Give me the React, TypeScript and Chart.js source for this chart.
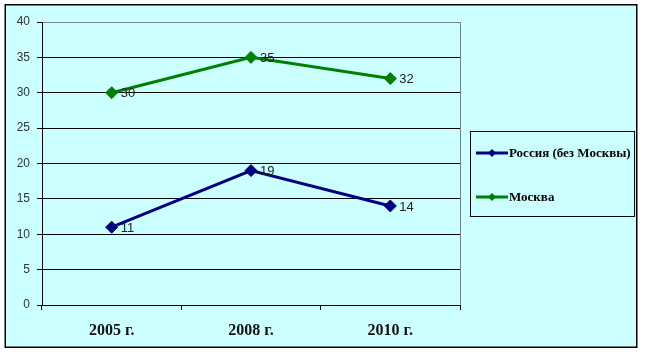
import React, { useEffect, useRef } from "react";
import { Chart, registerables } from "chart.js";

Chart.register(...registerables);

const categories = ["2005 г.", "2008 г.", "2010 г."];
const russiaValues = [11, 19, 14];
const moscowValues = [30, 35, 32];
const seriesNames = ["Россия (без Москвы)", "Москва"];
const seriesColors = ["#000080", "#008000"];
const yTicksMax = 40;
const yStep = 5;

const BG = "#CCFFFF";

const framePlugin = {
  id: "frame",
  beforeDraw(chart: any) {
    const { ctx, width, height } = chart;
    ctx.save();
    ctx.fillStyle = "#ffffff";
    ctx.fillRect(0, 0, width, height);
    ctx.fillStyle = BG;
    ctx.fillRect(5, 5, 632, 343);
    ctx.strokeStyle = "#000";
    ctx.lineWidth = 1.5;
    ctx.strokeRect(5.25, 4.75, 631.5, 342.5);
    ctx.restore();
  },
  afterDraw(chart: any) {
    const { ctx, chartArea } = chart;
    ctx.save();
    // right plot border
    ctx.strokeStyle = "#808080";
    ctx.lineWidth = 1;
    ctx.beginPath();
    ctx.moveTo(Math.round(chartArea.right) + 0.5, chartArea.top);
    ctx.lineTo(Math.round(chartArea.right) + 0.5, chartArea.bottom);
    ctx.stroke();

    // legend box
    const bx = 470, by = 131, bw = 164, bh = 85;
    ctx.fillStyle = BG;
    ctx.fillRect(bx, by, bw, bh);
    ctx.strokeStyle = "#000";
    ctx.strokeRect(bx + 0.5, by + 0.5, bw, bh);
    const ys = [153, 197];
    seriesNames.forEach((name, i) => {
      const y = ys[i];
      ctx.strokeStyle = seriesColors[i];
      ctx.lineWidth = 3;
      ctx.beginPath();
      ctx.moveTo(476, y);
      ctx.lineTo(508, y);
      ctx.stroke();
      ctx.fillStyle = seriesColors[i];
      ctx.beginPath();
      ctx.moveTo(492, y - 4);
      ctx.lineTo(496, y);
      ctx.lineTo(492, y + 4);
      ctx.lineTo(488, y);
      ctx.closePath();
      ctx.fill();
      ctx.fillStyle = "#000";
      ctx.font = "bold 13px 'Liberation Serif', 'Times New Roman', serif";
      ctx.textBaseline = "middle";
      ctx.textAlign = "left";
      ctx.fillText(name, 509, y + 1);
    });
    ctx.restore();
  },
  afterDatasetsDraw(chart: any) {
    const { ctx } = chart;
    ctx.save();
    ctx.font = "13px 'Liberation Sans', Arial, sans-serif";
    ctx.fillStyle = "#222";
    ctx.textBaseline = "middle";
    ctx.textAlign = "left";
    chart.data.datasets.forEach((ds: any, di: number) => {
      const meta = chart.getDatasetMeta(di);
      meta.data.forEach((pt: any, i: number) => {
        ctx.fillText(String(ds.data[i]), pt.x + 9, pt.y + 1);
      });
    });
    ctx.restore();
  },
};

export default function App() {
  const ref = useRef<HTMLCanvasElement>(null);
  useEffect(() => {
    if (!ref.current) return;
    const chart = new Chart(ref.current, {
      type: "line",
      data: {
        labels: categories,
        datasets: [
          {
            label: seriesNames[0],
            data: russiaValues,
            borderColor: seriesColors[0],
            backgroundColor: seriesColors[0],
            borderWidth: 3,
            pointStyle: "rectRot",
            pointRadius: 6,
            pointBorderWidth: 1,
          },
          {
            label: seriesNames[1],
            data: moscowValues,
            borderColor: seriesColors[1],
            backgroundColor: seriesColors[1],
            borderWidth: 3,
            pointStyle: "rectRot",
            pointRadius: 6,
            pointBorderWidth: 1,
          },
        ],
      },
      options: {
        animation: false,
        responsive: false,
        devicePixelRatio: 1,
        layout: { autoPadding: false, padding: { left: 0, top: 22, right: 185, bottom: 0 } },
        plugins: { legend: { display: false }, tooltip: { enabled: false } },
        scales: {
          x: {
            offset: true,
            grid: {
              offset: true,
              drawOnChartArea: false,
              drawTicks: true,
              tickLength: 5,
              color: "#000",
            },
            border: { color: "#000", width: 1 },
            ticks: {
              color: "#111",
              font: { family: "'Liberation Serif', 'Times New Roman', serif", size: 16, weight: "bold" },
              padding: 11,
            },
            afterFit(scale: any) {
              scale.height = 50;
            },
          },
          y: {
            min: 0,
            max: yTicksMax,
            ticks: {
              stepSize: yStep,
              color: "#333",
              font: { family: "'Liberation Sans', Arial, sans-serif", size: 12 },
              padding: 7,
            },
            grid: {
              color: (c: any) => (c.tick && c.tick.value === yTicksMax ? "#808080" : "#000"),
              tickColor: "#000",
              tickLength: 5,
              lineWidth: 1,
            },
            border: { color: "#000", width: 1 },
            afterFit(scale: any) {
              scale.width = 42;
            },
          },
        },
      },
      plugins: [framePlugin],
    } as any);
    return () => chart.destroy();
  }, []);
  return (
    <div style={{ position: "fixed", left: 0, top: 0, width: 645, height: 355 }}>
      <canvas ref={ref} width={645} height={355} style={{ display: "block" }} />
    </div>
  );
}
